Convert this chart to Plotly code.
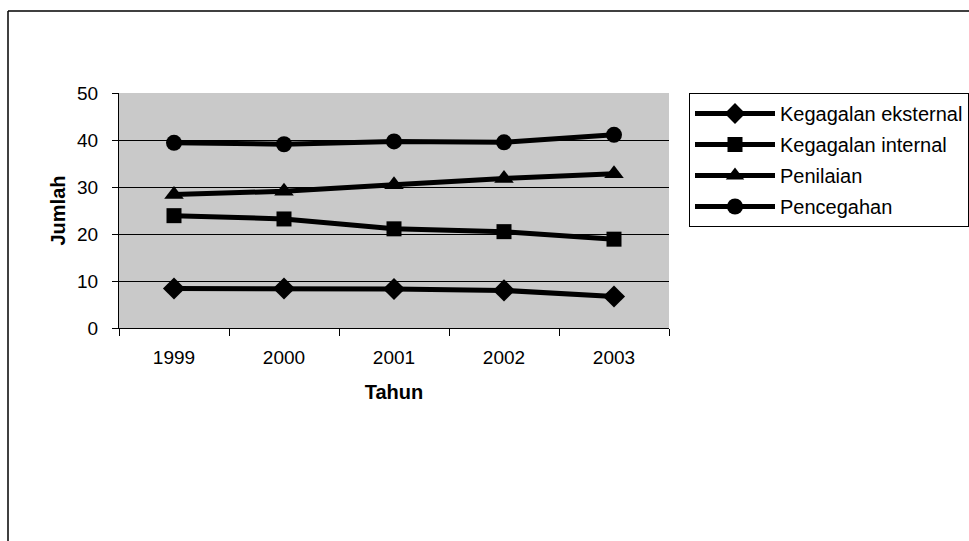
import plotly.graph_objects as go

years = ["1999", "2000", "2001", "2002", "2003"]
kegagalan_eksternal = [8.4, 8.4, 8.3, 8.0, 6.7]
kegagalan_internal = [23.9, 23.2, 21.1, 20.5, 18.9]
penilaian = [28.4, 29.1, 30.5, 31.8, 32.8]
pencegahan = [39.4, 39.1, 39.7, 39.5, 41.1]

series = [
    ("Kegagalan eksternal", kegagalan_eksternal, "diamond", 17),
    ("Kegagalan internal", kegagalan_internal, "square", 15),
    ("Penilaian", penilaian, "triangle-up", 17),
    ("Pencegahan", pencegahan, "circle", 16),
]

FONT = "Arial, 'Liberation Sans', sans-serif"

fig = go.Figure()
for i, (name, vals, sym, size) in enumerate(series):
    fig.add_trace(go.Scatter(
        x=years, y=vals, name=name, mode="lines+markers",
        line=dict(color="black", width=5),
        marker=dict(symbol=sym, size=size, color="black"),
        legendgroup="g%d" % i,
    ))

W, H = 969, 541
ml, mr, mt, mb = 119, 300, 93, 213
pw, ph = W - ml - mr, H - mt - mb

def px2x(px):
    return (px - ml) / pw

def px2y(py):
    return (H - mb - py) / ph

fig.update_layout(
    width=W, height=H,
    margin=dict(l=ml, r=mr, t=mt, b=mb, pad=0, autoexpand=False),
    paper_bgcolor="white",
    plot_bgcolor="#c9c9c9",
    font=dict(family=FONT, size=19, color="black"),
    showlegend=True,
    legend=dict(
        x=px2x(689), y=1.0, xanchor="left", yanchor="top",
        bordercolor="black", borderwidth=1, bgcolor="white",
        font=dict(size=20), itemwidth=80, tracegroupgap=2,
        traceorder="grouped",
    ),
    xaxis=dict(
        type="category", range=[-0.5, 4.5], automargin=False,
        showline=True, linecolor="black", linewidth=1,
        ticks="outside", ticklen=7, tickcolor="black", tickson="boundaries",
        showgrid=False, tickfont=dict(size=19), ticklabelstandoff=12,
        title=dict(text="<b>Tahun</b>", font=dict(size=20), standoff=18),
    ),
    yaxis=dict(
        range=[0, 50], dtick=10, automargin=False,
        showline=True, linecolor="black", linewidth=1,
        ticks="outside", ticklen=6, tickcolor="black",
        showgrid=True, gridcolor="black", gridwidth=1, zeroline=False,
        tickfont=dict(size=19), ticklabelstandoff=10,
        title=dict(text="<b>Jumlah</b>", font=dict(size=20), standoff=6),
    ),
    shapes=[
        dict(type="line", xref="paper", yref="paper",
             x0=px2x(8), x1=px2x(969), y0=px2y(11), y1=px2y(11),
             line=dict(color="black", width=1.5)),
        dict(type="line", xref="paper", yref="paper",
             x0=px2x(8), x1=px2x(8), y0=px2y(11), y1=px2y(541),
             line=dict(color="black", width=1.5)),
    ],
)

fig.write_html("out.html")
